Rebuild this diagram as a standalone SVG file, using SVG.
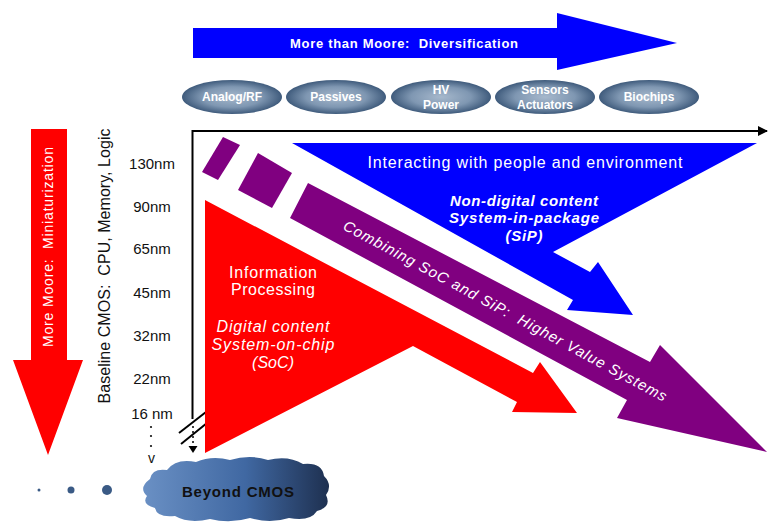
<svg xmlns="http://www.w3.org/2000/svg" width="768" height="523" viewBox="0 0 768 523">
<defs>
<radialGradient id="ellG" cx="0.5" cy="0.5" r="0.5">
<stop offset="0" stop-color="#a6b8cc"/>
<stop offset="0.6" stop-color="#7f97b2"/>
<stop offset="1" stop-color="#3f5b7c"/>
</radialGradient>
<linearGradient id="cloudG" x1="0" y1="0" x2="1" y2="0">
<stop offset="0" stop-color="#6a90c4"/>
<stop offset="0.55" stop-color="#4068a2"/>
<stop offset="1" stop-color="#1e3050"/>
</linearGradient>
<marker id="axHead" viewBox="0 0 10 10" refX="9" refY="5" markerWidth="5" markerHeight="5" orient="auto" markerUnits="strokeWidth">
<path d="M0,0 L10,5 L0,10 Z" fill="#000"/>
</marker>
</defs>
<style>
text{white-space:pre}
.w{fill:#fff;font-family:"Liberation Sans",Arial,sans-serif}
.wb{fill:#fff;font-family:"Liberation Sans",Arial,sans-serif;font-weight:bold}
.wi{fill:#fff;font-family:"Liberation Sans",Arial,sans-serif;font-style:italic;font-weight:bold}
.wn{fill:#fff;font-family:"Liberation Sans",Arial,sans-serif;font-style:italic;font-weight:normal}
.k{fill:#111;font-family:"Liberation Sans",Arial,sans-serif}
.ell{fill:url(#ellG)}
.el{fill:#fff;font-family:"Liberation Sans",Arial,sans-serif;font-weight:bold;font-size:12px;text-anchor:middle}
.nm{fill:#111;font-family:"Liberation Sans",Arial,sans-serif;font-size:15px;text-anchor:middle}
</style>
<g id="more-than-moore">
<polygon points="193,28 557,28 557,13 677,43 557,70 557,58 193,58" fill="#0000ff"/>
<text class="wb" x="404" y="48" font-size="13" text-anchor="middle" textLength="228">More than Moore:  Diversification</text>
</g>
<g id="analog-rf"><ellipse class="ell" cx="232" cy="97" rx="50" ry="17"/><text class="el" x="232" y="101">Analog/RF</text></g>
<g id="passives"><ellipse class="ell" cx="336" cy="97" rx="50" ry="17"/><text class="el" x="336" y="101">Passives</text></g>
<g id="hv-power"><ellipse class="ell" cx="441" cy="97" rx="50" ry="17"/><text class="el" x="441" y="94">HV</text><text class="el" x="441" y="109">Power</text></g>
<g id="sensors"><ellipse class="ell" cx="545" cy="97" rx="50" ry="17"/><text class="el" x="545" y="94">Sensors</text><text class="el" x="545" y="109">Actuators</text></g>
<g id="biochips"><ellipse class="ell" cx="649" cy="97" rx="50" ry="17"/><text class="el" x="649" y="101">Biochips</text></g>
<g id="connectors">
<line x1="192" y1="131" x2="767" y2="131" stroke="#000" stroke-width="2" marker-end="url(#axHead)"/>
<line x1="192.5" y1="130" x2="192.5" y2="419" stroke="#000" stroke-width="2"/>
<line x1="179" y1="433" x2="206" y2="412" stroke="#000" stroke-width="2"/>
<line x1="181" y1="444" x2="207" y2="423" stroke="#000" stroke-width="2"/>
<line x1="193" y1="426" x2="193" y2="447" stroke="#000" stroke-width="1.5" stroke-dasharray="2,3"/>
<polygon points="188.5,446 197.5,446 193,453" fill="#000"/>
</g>
<g id="blue-sip">
<polygon points="292,143 757,143 553,252 590,272 598,262 633,315 567,310 573,300" fill="#0000ff"/>
<text class="w" x="525" y="168" font-size="16" text-anchor="middle" textLength="315">Interacting with people and environment</text>
<text class="wi" x="524" y="206" font-size="15" text-anchor="middle" textLength="148">Non-digital content</text>
<text class="wi" x="524" y="223" font-size="15" text-anchor="middle" textLength="150">System-in-package</text>
<text class="wi" x="524" y="241" font-size="15" text-anchor="middle" textLength="37">(SiP)</text>
</g>
<g id="purple-combining">
<polygon points="202,172 223,137 240,145 218,180" fill="#800080"/>
<polygon points="238,190 258,153 292,173 272,208" fill="#800080"/>
<polygon points="308,183 650,362 660,345 767,452 617,418 627,400 290,218" fill="#800080"/>
<text class="wn" transform="translate(505,311) rotate(28.3)" x="0" y="5" font-size="15" text-anchor="middle" textLength="365">Combining SoC and SiP:  Higher Value Systems</text>
</g>
<g id="red-soc">
<polygon points="205,200 533,373 540,362 577,413 512,412 517,402 413,346 205,453" fill="#ff0000"/>
<text class="w" x="273" y="278" font-size="16" text-anchor="middle" textLength="88">Information</text>
<text class="w" x="273" y="295" font-size="16" text-anchor="middle" textLength="84">Processing</text>
<text class="wn" x="273" y="332" font-size="16" text-anchor="middle" textLength="113">Digital content</text>
<text class="wn" x="273" y="350" font-size="16" text-anchor="middle" textLength="123">System-on-chip</text>
<text class="wn" x="273" y="368" font-size="16" text-anchor="middle" textLength="42">(SoC)</text>
</g>
<g id="more-moore">
<polygon points="31,129 67,129 67,360 83,360 48,455 13,360 31,360" fill="#ff0000"/>
<text class="w" transform="translate(53,247) rotate(-90)" font-size="14" text-anchor="middle" textLength="200">More Moore:  Miniaturization</text>
</g>
<g id="baseline-cmos">
<text class="k" transform="translate(110,266) rotate(-90)" font-size="16" text-anchor="middle" textLength="275">Baseline CMOS:  CPU, Memory, Logic</text>
<text class="nm" x="152" y="168.5">130nm</text>
<text class="nm" x="152" y="211.5">90nm</text>
<text class="nm" x="152" y="253.5">65nm</text>
<text class="nm" x="152" y="297.5">45nm</text>
<text class="nm" x="152" y="340.5">32nm</text>
<text class="nm" x="152" y="383.5">22nm</text>
<text class="nm" x="152" y="418.5">16 nm</text>
<circle cx="151" cy="427" r="1.1" fill="#111"/>
<circle cx="151" cy="436" r="1.1" fill="#111"/>
<circle cx="151" cy="446" r="1.1" fill="#111"/>
<text class="k" x="151.5" y="463" font-size="14" text-anchor="middle">v</text>
</g>
<g id="beyond-cmos">
<circle cx="39" cy="490" r="1.5" fill="#3a5a85"/>
<circle cx="71" cy="490" r="3.5" fill="#3a5a85"/>
<circle cx="107" cy="490" r="5" fill="#3a5a85"/>
<path d="M150,479 Q152,468 167,470 Q176,458 196,462 Q212,455 230,460 Q250,454 268,460 Q288,455 303,464 Q322,462 324,476 Q333,485 326,495 Q332,507 317,511 Q310,522 289,518 Q270,524 250,518 Q230,524 210,519 Q189,524 175,516 Q157,518 155,508 Q141,504 147,496 Q138,488 150,479 Z" fill="url(#cloudG)"/>
<text class="k" x="238" y="497" font-size="15" font-weight="bold" text-anchor="middle" textLength="112">Beyond CMOS</text>
</g>
</svg>
